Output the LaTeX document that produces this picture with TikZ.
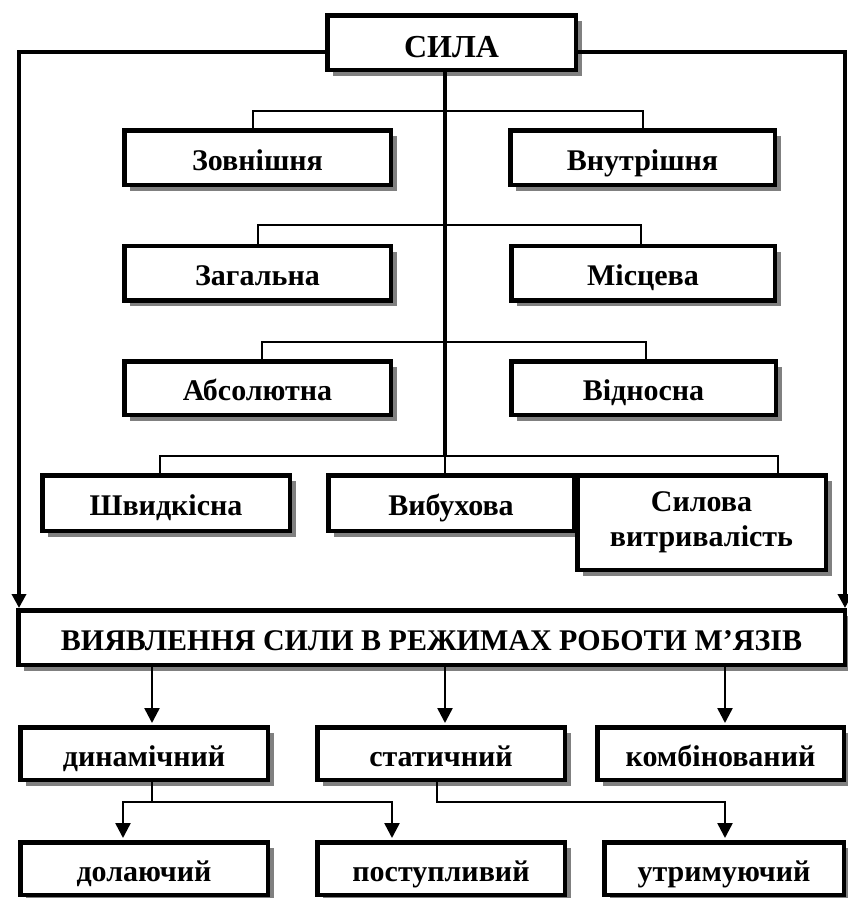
\documentclass[tikz,border=0pt]{standalone}
\usepackage{fontspec}
\setmainfont{Liberation Serif}
\usetikzlibrary{arrows.meta,shadows,calc}
\tikzset{
  box/.style={draw, line width=4.5pt, fill=white, align=center, inner sep=0pt,
    font=\bfseries\fontsize{30}{35}\selectfont, text height=25pt, text depth=0pt,
    general shadow={fill=black!50, shadow xshift=6pt, shadow yshift=-6pt}},
  twoline/.style={text height=, text depth=},
  thinline/.style={line width=2pt},
  trunkline/.style={line width=4pt},
  frameline/.style={line width=4pt, -{Triangle[length=14pt,width=14pt]}},
  arr/.style={line width=2.5pt, -{Triangle[length=15pt,width=15pt]}, shorten >=2pt},
  plainarr/.style={line width=2.5pt},
}
\begin{document}
\begin{tikzpicture}[x=1pt,y=-1pt]
\useasboundingbox (0,0) rectangle (848,898);
% boxes
\node[box, font=\bfseries\fontsize{32}{36}\selectfont, text height=29pt, minimum width=248.5pt, minimum height=54.5pt] (sila) at (451.5,42.5) {СИЛА};
\node[box, minimum width=266.5pt, minimum height=54.5pt] (zovn) at (257.5,157.5) {Зовнішня};
\node[box, minimum width=264.5pt, minimum height=54.5pt] (vnut) at (642.5,157.5) {Внутрішня};
\node[box, minimum width=266.5pt, minimum height=54.5pt] (zag) at (257.5,273) {Загальна};
\node[box, minimum width=263.5pt, minimum height=54.5pt] (misc) at (643,273) {Місцева};
\node[box, minimum width=266.5pt, minimum height=53.5pt] (abs) at (257.5,388) {Абсолютна};
\node[box, minimum width=264.5pt, minimum height=53.5pt] (vidn) at (643.5,388) {Відносна};
\node[box, minimum width=247.5pt, minimum height=55.5pt] (shv) at (166,503) {Швидкісна};
\node[box, minimum width=245.5pt, minimum height=55.5pt] (vyb) at (451,503) {Вибухова};
\node[box, twoline, minimum width=248.5pt, minimum height=94.5pt] (syl) at (701.5,522.5) {Силова\\витривалість};
\node[box, minimum width=826.5pt, minimum height=54.5pt] (vyyav) at (431.5,637.5) {ВИЯВЛЕННЯ СИЛИ В РЕЖИМАХ РОБОТИ М’ЯЗІВ};
\node[box, minimum width=247.5pt, minimum height=52.5pt] (dyn) at (144,753.5) {динамічний};
\node[box, minimum width=247.5pt, minimum height=52.5pt] (stat) at (441,753.5) {статичний};
\node[box, minimum width=246.5pt, minimum height=52.5pt] (komb) at (720.5,753.5) {комбінований};
\node[box, minimum width=247.5pt, minimum height=52.5pt] (dol) at (144,868.5) {долаючий};
\node[box, minimum width=247.5pt, minimum height=52.5pt] (post) at (441,868.5) {поступливий};
\node[box, minimum width=239.5pt, minimum height=52.5pt] (utr) at (724,868.5) {утримуючий};
% frame
\draw[frameline] ($(sila.west)+(0,9)$) -- (19,51.5) -- (vyyav.north -| 19,0);
\draw[frameline] ($(sila.east)+(0,9)$) -- (845,51.5) -- (vyyav.north -| 845,0);
% trunk
\draw[trunkline] (sila.south -| 445,0) -- (445,456);
% rows
\draw[thinline] (zovn.north -| 253,0) -- (253,111) -- (643,111) -- (vnut.north -| 643,0);
\draw[thinline] (zag.north -| 258,0) -- (258,225) -- (641,225) -- (misc.north -| 641,0);
\draw[thinline] (abs.north -| 262,0) -- (262,342) -- (646,342) -- (vidn.north -| 646,0);
\draw[thinline] (shv.north -| 160,0) -- (160,456) -- (778,456) -- (syl.north -| 778,0);
\draw[thinline] (445,456) -- (vyb.north -| 445,0);
% lower part
\draw[arr] (vyyav.south -| 152,0) -- (dyn.north -| 152,0);
\draw[arr] (vyyav.south -| 445,0) -- (stat.north -| 445,0);
\draw[arr] (vyyav.south -| 725,0) -- (komb.north -| 725,0);
\draw[plainarr] (dyn.south -| 152,0) -- (152,802);
\draw[arr] (152,802) -- (123,802) -- (dol.north -| 123,0);
\draw[arr] (152,802) -- (392,802) -- (post.north -| 392,0);
\draw[arr] (stat.south -| 437,0) -- (437,802) -- (725,802) -- (utr.north -| 725,0);
\end{tikzpicture}
\end{document}
